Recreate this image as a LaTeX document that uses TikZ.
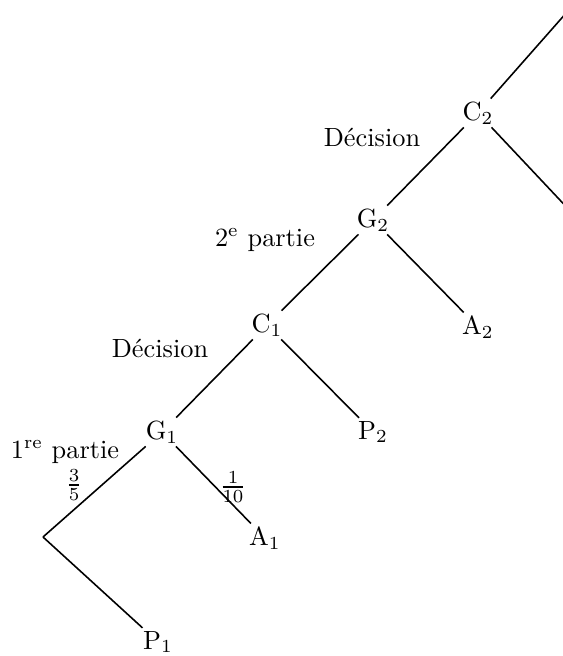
\documentclass[tikz,border=0pt]{standalone}
\usepackage{tikz}
\usetikzlibrary{positioning}
\begin{document}
\begin{tikzpicture}[x=0.38pt,y=-0.38pt]
\tikzset{
 n/.style={inner sep=1pt},
 t/.style={inner sep=0pt},
 a/.style={line width=0.6pt}
}
\clip (0,0) rectangle (563,656);
\coordinate (r) at (43,537);
\node[n] (g1) at (162,432) {G$_1$};
\node[n] (p1) at (158,642) {P$_1$};
\node[n] (a1) at (265,538) {A$_1$};
\node[n] (c1) at (267,325) {C$_1$};
\node[n] (p2) at (373,432) {P$_2$};
\node[n] (g2) at (373,220) {G$_2$};
\node[n] (a2) at (478,327) {A$_2$};
\node[n] (c2) at (478,113) {C$_2$};
\coordinate (u) at (590,-14);
\coordinate (v) at (590,232);
\foreach \i/\j in {r/g1,r/p1,g1/c1,g1/a1,c1/g2,c1/p2,g2/c2,g2/a2,c2/u,c2/v}{\draw[a] (\i)--(\j);}
% textes
\node[t] (l1) at (65,452) {1\textsuperscript{re} partie};
\node[t] (f1) at (74,485) {$\frac{3}{5}$};
\node[t] (f2) at (233,487) {$\frac{1}{10}$};
\node[t] (l2) at (160,348) {Décision};
\node[t] (l3) at (265,240) {2\textsuperscript{e} partie};
\node[t] (l4) at (372,137) {Décision};
\end{tikzpicture}
\end{document}
